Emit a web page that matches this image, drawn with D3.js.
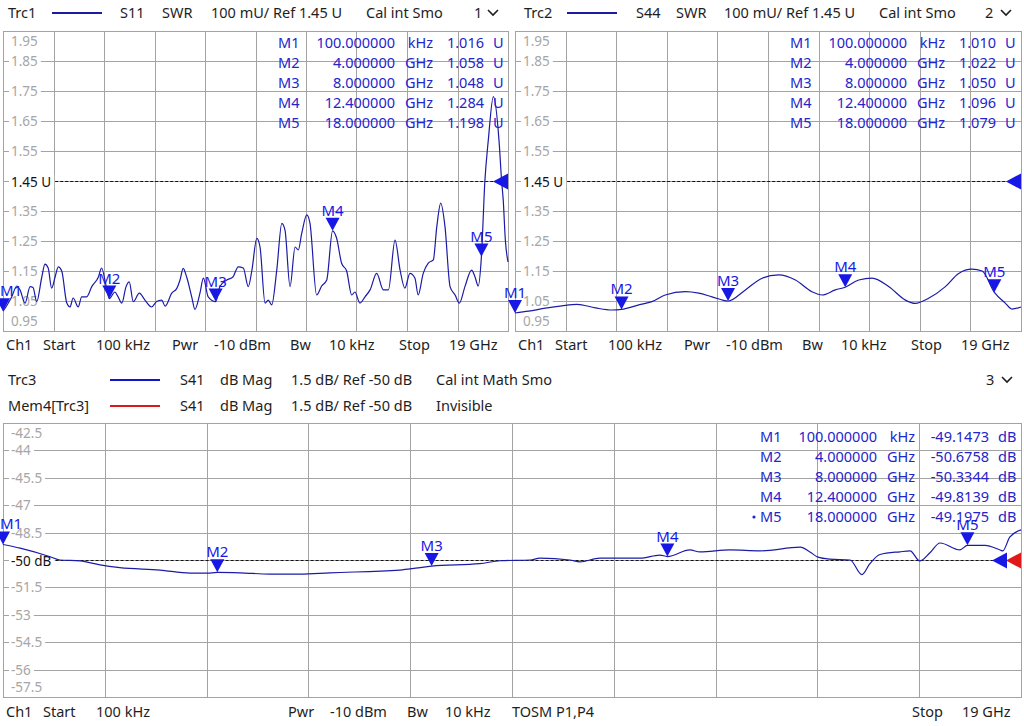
<!DOCTYPE html>
<html>
<head>
<meta charset="utf-8">
<script src="https://cdn.jsdelivr.net/npm/d3@7"></script>
<style>
  body { margin: 0; background: #fff; }
  svg { display: block; font-family: "Noto Sans", sans-serif; }
</style>
</head>
<body>
<svg id="chart" width="1024" height="726"></svg>
<script>
// ---- data ----
const startGHz = 0.0001, stopGHz = 19;

const s11Freq = [0.0001, 0.11, 0.33, 0.52, 0.64, 0.83, 1.02, 1.13, 1.27, 1.46, 1.58, 1.70, 1.83, 1.96, 2.08, 2.21, 2.40, 2.52, 2.64, 2.83,
  2.96, 3.15, 3.34, 3.59, 3.71, 3.88, 4.00, 4.21, 4.33, 4.47, 4.63, 4.75, 4.90, 5.13, 5.34, 5.59, 5.78, 5.97, 6.10, 6.35,
  6.54, 6.66, 6.78, 6.91, 7.10, 7.22, 7.41, 7.54, 7.72, 8.00, 8.16, 8.42, 8.65, 8.85, 9.04, 9.23, 9.36, 9.55, 9.67, 9.86,
  9.98, 10.11, 10.30, 10.49, 10.61, 10.80, 10.99, 11.11, 11.24, 11.43, 11.55, 11.80, 11.99, 12.18, 12.40, 12.55, 12.74, 12.93, 13.12, 13.24,
  13.43, 13.62, 13.81, 14.06, 14.31, 14.50, 14.75, 14.94, 15.12, 15.31, 15.50, 15.62, 15.81, 16.00, 16.19, 16.32, 16.47, 16.63, 16.82, 17.01,
  17.17, 17.38, 17.63, 17.76, 17.88, 18.00, 18.13, 18.26, 18.45, 18.66, 18.76, 18.82, 18.90, 19.00];
const s11Swr = [1.016, 1.03, 1.064, 1.10, 1.087, 1.043, 1.098, 1.095, 1.048, 1.13, 1.173, 1.16, 1.093, 1.13, 1.164, 1.15, 1.043, 1.03, 1.06, 1.03,
  1.064, 1.064, 1.098, 1.13, 1.16, 1.10, 1.058, 1.08, 1.064, 1.043, 1.098, 1.114, 1.048, 1.076, 1.053, 1.03, 1.048, 1.053, 1.033, 1.076,
  1.092, 1.12, 1.159, 1.13, 1.064, 1.022, 1.076, 1.126, 1.064, 1.048, 1.098, 1.12, 1.13, 1.164, 1.16, 1.098, 1.15, 1.259, 1.23, 1.043,
  1.053, 1.037, 1.153, 1.309, 1.286, 1.098, 1.23, 1.22, 1.276, 1.337, 1.309, 1.07, 1.10, 1.12, 1.284, 1.26, 1.176, 1.15, 1.07, 1.08,
  1.043, 1.064, 1.087, 1.142, 1.087, 1.087, 1.253, 1.153, 1.093, 1.142, 1.126, 1.07, 1.142, 1.176, 1.187, 1.297, 1.376, 1.297, 1.098, 1.07,
  1.043, 1.098, 1.153, 1.13, 1.10, 1.198, 1.45, 1.587, 1.731, 1.587, 1.45, 1.387, 1.253, 1.18];

const s44Freq = [0.0001, 0.51, 1.14, 1.76, 2.33, 3.02, 3.64, 4.00, 4.65, 5.14, 5.64, 6.40, 6.90, 7.40, 8.00, 8.65, 9.28, 9.90, 10.53, 11.15,
  11.53, 12.03, 12.40, 12.91, 13.41, 14.03, 14.66, 15.03, 15.53, 16.16, 16.66, 17.16, 17.54, 18.00, 18.41, 18.66, 19.00];
const s44Swr = [1.010, 1.016, 1.026, 1.034, 1.039, 1.027, 1.020, 1.022, 1.037, 1.048, 1.070, 1.081, 1.076, 1.064, 1.050, 1.087, 1.126, 1.137, 1.120, 1.081,
  1.070, 1.087, 1.096, 1.120, 1.126, 1.098, 1.053, 1.042, 1.059, 1.098, 1.142, 1.156, 1.150, 1.079, 1.043, 1.023, 1.030];

const s41Freq = [0.0001, 0.32, 0.88, 1.06, 1.44, 1.81, 2.18, 2.93, 3.49, 3.81, 4.00, 4.42, 4.98, 5.54, 6.10, 7.41, 7.70, 8.00, 8.90, 9.28,
  9.84, 10.02, 10.58, 10.77, 11.14, 11.52, 11.89, 12.26, 12.40, 12.82, 13.01, 13.57, 14.13, 14.88, 15.06, 15.21, 15.43, 15.81, 16.03, 16.18,
  16.37, 16.74, 16.93, 17.11, 17.30, 17.49, 17.86, 18.00, 18.33, 18.61, 18.66, 18.79, 19.00];
const s41Db = [-49.15, -49.35, -49.82, -50.00, -50.05, -50.27, -50.42, -50.55, -50.72, -50.72, -50.68, -50.70, -50.77, -50.77, -50.70, -50.55, -50.45, -50.33, -50.20, -50.04,
  -50.00, -49.90, -50.00, -50.10, -49.90, -49.90, -49.90, -49.73, -49.81, -49.45, -49.56, -49.45, -49.50, -49.30, -49.56, -49.84, -49.95, -50.00, -50.80, -50.20,
  -49.70, -49.55, -49.50, -50.05, -49.60, -49.07, -49.45, -49.20, -49.20, -49.45, -49.50, -48.75, -48.35];

const markerNames = ["M1", "M2", "M3", "M4", "M5"];
const markerFreq = [0.0001, 4, 8, 12.4, 18];
const markerFreqText = ["100.000000", "4.000000", "8.000000", "12.400000", "18.000000"];
const markerUnit = ["kHz", "GHz", "GHz", "GHz", "GHz"];
const s11Markers = [1.016, 1.058, 1.048, 1.284, 1.198];
const s44Markers = [1.010, 1.022, 1.050, 1.096, 1.079];
const s41Markers = [-49.1473, -50.6758, -50.3344, -49.8139, -49.1975];

const swrTicks = [1.95, 1.85, 1.75, 1.65, 1.55, 1.45, 1.35, 1.25, 1.15, 1.05, 0.95];
const dbTicks = [-42.5, -44, -45.5, -47, -48.5, -50, -51.5, -53, -54.5, -56, -57.5];

const topFooter = ["Ch1", "Start", "100 kHz", "Pwr", "-10 dBm", "Bw", "10 kHz", "Stop", "19 GHz"];
const bottomFooter = ["Ch1", "Start", "100 kHz", "Pwr", "-10 dBm", "Bw", "10 kHz", "TOSM P1,P4", "Stop", "19 GHz"];

// ---- styles ----
const gridCol = "#a3a3a3", labelCol = "#a6a6a6", textCol = "#1e1e1e";
const traceCol = "#1b1ba6", markCol = "#1717e6", tableCol = "#2424cc";

const svg = d3.select("#chart");

function text(g, x, y, s, opts) {
  opts = opts || {};
  return g.append("text")
    .attr("x", x).attr("y", y)
    .attr("font-size", opts.size || 14.5)
    .attr("fill", opts.fill || textCol)
    .attr("text-anchor", opts.anchor || "start")
    .text(s);
}

function chevron(g, x, y) {
  g.append("path")
    .attr("d", `M${x},${y - 3}L${x + 5},${y + 2}L${x + 10},${y - 3}`)
    .attr("fill", "none").attr("stroke", textCol).attr("stroke-width", 1.6);
}

function drawPanel(p) {
  const g = svg.append("g");
  const x = d3.scaleLinear().domain([startGHz, stopGHz]).range([p.x0, p.x1]);
  const y = d3.scaleLinear().domain([p.ticks[p.ticks.length - 1], p.ticks[0]]).range([p.y1, p.y0]);

  // grid
  const vLines = d3.range(1, 10).map(k => startGHz + k * (stopGHz - startGHz) / 10);
  g.selectAll(".vgrid").data(vLines).join("line")
    .attr("x1", d => Math.round(x(d)) + 0.5).attr("x2", d => Math.round(x(d)) + 0.5)
    .attr("y1", p.y0).attr("y2", p.y1)
    .attr("stroke", gridCol);
  g.selectAll(".hgrid").data(p.ticks.slice(1, -1)).join("line")
    .attr("x1", p.x0).attr("x2", p.x1)
    .attr("y1", d => Math.round(y(d)) + 0.5).attr("y2", d => Math.round(y(d)) + 0.5)
    .attr("stroke", gridCol);
  g.append("rect")
    .attr("x", p.x0 + 0.5).attr("y", p.y0 + 0.5)
    .attr("width", p.x1 - p.x0).attr("height", p.y1 - p.y0)
    .attr("fill", "none").attr("stroke", gridCol);

  // y labels with white backing
  p.ticks.forEach((v, i) => {
    if (v === p.refVal) return;
    let ty = y(v);
    if (i === 0) ty = p.y0 + 10;
    if (i === p.ticks.length - 1) ty = p.y1 - 10;
    const t = text(g, p.x0 + 8, ty + 5, p.fmt(v), { size: 13.5, fill: labelCol });
    const bb = t.node().getBBox();
    g.insert("rect", "text:last-of-type")
      .attr("x", bb.x - 2).attr("y", ty - 6).attr("width", bb.width + 5).attr("height", 12)
      .attr("fill", "#fff");
  });

  // reference line
  const ry = Math.round(y(p.refVal)) + 0.5;
  const rt = text(g, p.x0 + 8, ry + 5, p.refText, { size: 13.5, fill: "#111" });
  const rb = rt.node().getBBox();
  g.insert("rect", "text:last-of-type")
    .attr("x", rb.x - 2).attr("y", ry - 7).attr("width", rb.width + 5).attr("height", 14)
    .attr("fill", "#fff");
  g.append("line")
    .attr("x1", rb.x + rb.width + 4).attr("x2", p.x1)
    .attr("y1", ry).attr("y2", ry)
    .attr("stroke", "#111").attr("stroke-dasharray", "3,2");

  // trace
  const line = d3.line()
    .x((d, i) => x(p.freq[i]))
    .y(d => y(d))
    .curve(d3.curveMonotoneX);
  g.append("path")
    .attr("d", line(p.vals))
    .attr("fill", "none").attr("stroke", traceCol).attr("stroke-width", 1.2);

  // reference arrows
  p.refArrows.forEach((c, i) => {
    const bx = p.x1 - i * 14;
    g.append("path")
      .attr("d", `M${bx - 15},${ry}L${bx},${ry - 8}L${bx},${ry + 8}Z`)
      .attr("fill", c);
  });

  // markers
  p.markers.forEach((v, i) => {
    const mx = x(markerFreq[i]), my = y(v);
    g.append("path")
      .attr("d", `M${mx},${my}L${mx - 7},${my - 13}L${mx + 7},${my - 13}Z`)
      .attr("fill", markCol);
    // keep the start marker's name on screen
    const lx = Math.max(mx, 11);
    text(g, lx, my - 15, markerNames[i], { size: 15, fill: markCol, anchor: "middle" });
  });

  // marker table
  const c = p.table;
  p.markers.forEach((v, i) => {
    const ty = c.y + i * 20 + 5;
    text(g, c.name, ty, markerNames[i], { fill: tableCol });
    text(g, c.freq, ty, markerFreqText[i], { fill: tableCol, anchor: "end" });
    text(g, c.unit, ty, markerUnit[i], { fill: tableCol, anchor: "end" });
    text(g, c.val, ty, v.toFixed(p.digits), { fill: tableCol, anchor: "end" });
    text(g, c.suffix, ty, p.suffix, { fill: tableCol });
  });
  if (c.dot) {
    g.append("circle").attr("cx", c.name - 6).attr("cy", c.y + 80).attr("r", 1.6).attr("fill", tableCol);
  }
}

// ---- top-left: Trc1 S11 ----
const hdr1 = svg.append("g");
text(hdr1, 8, 18, "Trc1");
hdr1.append("line").attr("x1", 52).attr("x2", 102).attr("y1", 13).attr("y2", 13).attr("stroke", traceCol).attr("stroke-width", 2);
text(hdr1, 120, 18, "S11");
text(hdr1, 162, 18, "SWR");
text(hdr1, 211, 18, "100 mU/ Ref 1.45 U");
text(hdr1, 366, 18, "Cal int Smo");
text(hdr1, 474, 18, "1");
chevron(hdr1, 488, 13);

drawPanel({
  x0: 3, x1: 508, y0: 31, y1: 331,
  ticks: swrTicks, fmt: d3.format(".2f"), refVal: 1.45, refText: "1.45 U",
  freq: s11Freq, vals: s11Swr, markers: s11Markers,
  digits: 3, suffix: "U", refArrows: [markCol],
  table: { y: 43, name: 278, freq: 395, unit: 433, val: 484, suffix: 493 }
});

// ---- top-right: Trc2 S44 ----
const hdr2 = svg.append("g");
text(hdr2, 524, 18, "Trc2");
hdr2.append("line").attr("x1", 567).attr("x2", 617).attr("y1", 13).attr("y2", 13).attr("stroke", traceCol).attr("stroke-width", 2);
text(hdr2, 636, 18, "S44");
text(hdr2, 676, 18, "SWR");
text(hdr2, 724, 18, "100 mU/ Ref 1.45 U");
text(hdr2, 879, 18, "Cal int Smo");
text(hdr2, 985, 18, "2");
chevron(hdr2, 1001, 13);

drawPanel({
  x0: 515, x1: 1021, y0: 31, y1: 331,
  ticks: swrTicks, fmt: d3.format(".2f"), refVal: 1.45, refText: "1.45 U",
  freq: s44Freq, vals: s44Swr, markers: s44Markers,
  digits: 3, suffix: "U", refArrows: [markCol],
  table: { y: 43, name: 790, freq: 907, unit: 945, val: 996, suffix: 1005 }
});

// footers of the top row
const footX = [6, 43, 96, 172, 214, 290, 329, 399, 449];
const foot = svg.append("g");
topFooter.forEach((s, i) => {
  text(foot, footX[i], 350, s);
  text(foot, footX[i] + 512, 350, s);
});

// ---- bottom: Trc3 S41 ----
const hdr3 = svg.append("g");
text(hdr3, 8, 385, "Trc3");
hdr3.append("line").attr("x1", 110).attr("x2", 160).attr("y1", 380).attr("y2", 380).attr("stroke", "#1515c8").attr("stroke-width", 2);
text(hdr3, 180, 385, "S41");
text(hdr3, 220, 385, "dB Mag");
text(hdr3, 291, 385, "1.5 dB/ Ref -50 dB");
text(hdr3, 436, 385, "Cal int Math Smo");
text(hdr3, 986, 385, "3");
chevron(hdr3, 1002, 380);
text(hdr3, 8, 411, "Mem4[Trc3]");
hdr3.append("line").attr("x1", 110).attr("x2", 160).attr("y1", 406).attr("y2", 406).attr("stroke", "#d91a1a").attr("stroke-width", 2);
text(hdr3, 180, 411, "S41");
text(hdr3, 220, 411, "dB Mag");
text(hdr3, 291, 411, "1.5 dB/ Ref -50 dB");
text(hdr3, 436, 411, "Invisible");

drawPanel({
  x0: 3, x1: 1021, y0: 423, y1: 697,
  ticks: dbTicks, fmt: v => String(v), refVal: -50, refText: "-50 dB",
  freq: s41Freq, vals: s41Db, markers: s41Markers,
  digits: 4, suffix: "dB", refArrows: ["#e01818", markCol],
  table: { y: 437, name: 760, freq: 877, unit: 915, val: 989, suffix: 998, dot: true }
});

const footBX = [6, 43, 96, 288, 330, 407, 445, 512, 912, 962];
const footB = svg.append("g");
bottomFooter.forEach((s, i) => text(footB, footBX[i], 717, s));
</script>
</body>
</html>
